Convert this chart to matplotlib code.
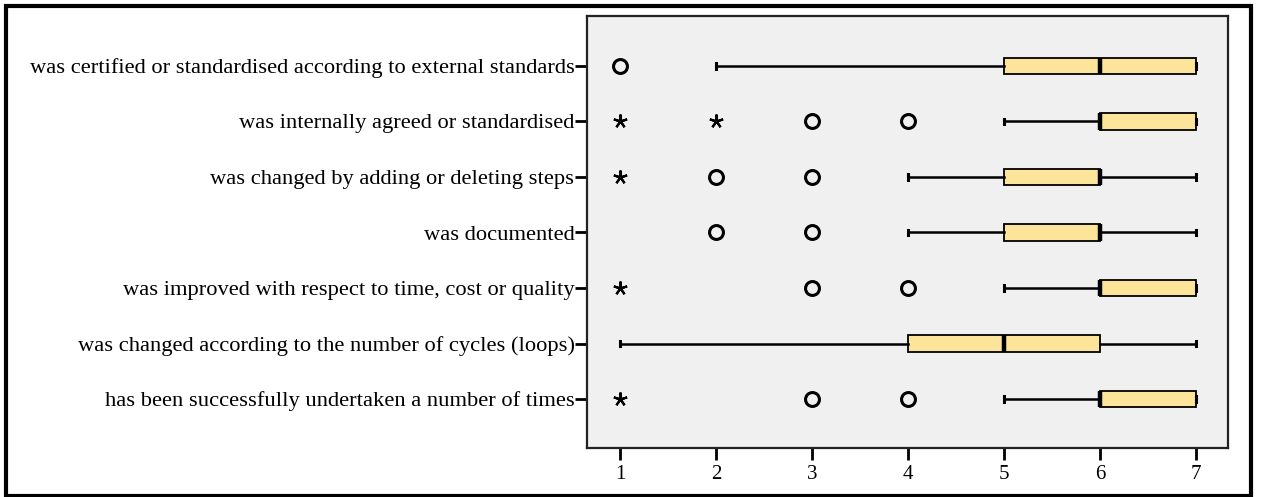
import matplotlib
matplotlib.use("Agg")
import matplotlib.pyplot as plt
from matplotlib.patches import Rectangle

plt.rcParams['font.family'] = ['Liberation Serif', 'DejaVu Serif']

# Items, listed bottom to top
items = [
    "has been successfully undertaken a number of times",
    "was changed according to the number of cycles (loops)",
    "was improved with respect to time, cost or quality",
    "was documented",
    "was changed by adding or deleting steps",
    "was internally agreed or standardised",
    "was certified or standardised according to external standards",
]

# Five-number summaries per item (same order as items)
whisker_low = [5, 1, 5, 4, 4, 5, 2]
quartile_1 = [6, 4, 6, 5, 5, 6, 5]
medians = [6, 5, 6, 6, 6, 6, 6]
quartile_3 = [7, 6, 7, 6, 6, 7, 7]
whisker_high = [7, 7, 7, 7, 7, 7, 7]

# Outliers (circles) and extreme values (stars)
outliers = [[3, 4], [], [3, 4], [2, 3], [2, 3], [3, 4], [1]]
extremes = [[1], [], [1], [], [1], [1, 2], []]

x_ticks = [1, 2, 3, 4, 5, 6, 7]

fig = plt.figure(figsize=(12.62, 4.97), dpi=100)
ax = fig.add_axes([587 / 1262, 1 - 448 / 497, (1228 - 587) / 1262, (448 - 16) / 497])
ax.set_facecolor('#f0f0f0')

stats = []
for i in range(len(items)):
    stats.append(dict(whislo=whisker_low[i], q1=quartile_1[i], med=medians[i],
                      q3=quartile_3[i], whishi=whisker_high[i], fliers=[]))

positions = list(range(1, len(items) + 1))
ax.bxp(stats, positions=positions, vert=False, widths=0.29, patch_artist=True,
       showfliers=False, capwidths=0.1,
       boxprops=dict(facecolor='#fce49a', edgecolor='black', linewidth=1.3),
       medianprops=dict(color='black', linewidth=3.2),
       whiskerprops=dict(color='black', linewidth=1.8),
       capprops=dict(color='black', linewidth=2.2))

for pos, vals in zip(positions, outliers):
    if vals:
        ax.plot(vals, [pos] * len(vals), linestyle='none', marker='o', markersize=10,
                markerfacecolor='none', markeredgecolor='black', markeredgewidth=2.2,
                zorder=4)
for pos, vals in zip(positions, extremes):
    if vals:
        ax.plot(vals, [pos] * len(vals), linestyle='none', marker=(5, 2, 0), markersize=10,
                color='black', markeredgewidth=1.6, zorder=4)

ax.set_xlim(1 - 33 / 96, 7 + 32 / 96)
ax.set_ylim(1 - 49 / 55.5, 7 + 50 / 55.5)
ax.set_xticks(x_ticks)
ax.set_xticklabels([str(t) for t in x_ticks])
ax.set_yticks(positions)
ax.set_yticklabels(items)
ax.tick_params(axis='x', direction='out', length=8.5, width=2, colors='black',
               labelsize=15, pad=4)
ax.tick_params(axis='y', direction='out', length=8.5, width=2, colors='black',
               labelsize=16.2, pad=0.5)
for sp in ax.spines.values():
    sp.set_linewidth(1.6)
    sp.set_color('#222222')

# Frame around the whole figure
fig.patches.append(Rectangle((5.5 / 1262, 1.5 / 497), 1245.5 / 1262, 490 / 497,
                             transform=fig.transFigure, fill=False,
                             edgecolor='black', linewidth=3))

fig.savefig('out.png', dpi=100)
